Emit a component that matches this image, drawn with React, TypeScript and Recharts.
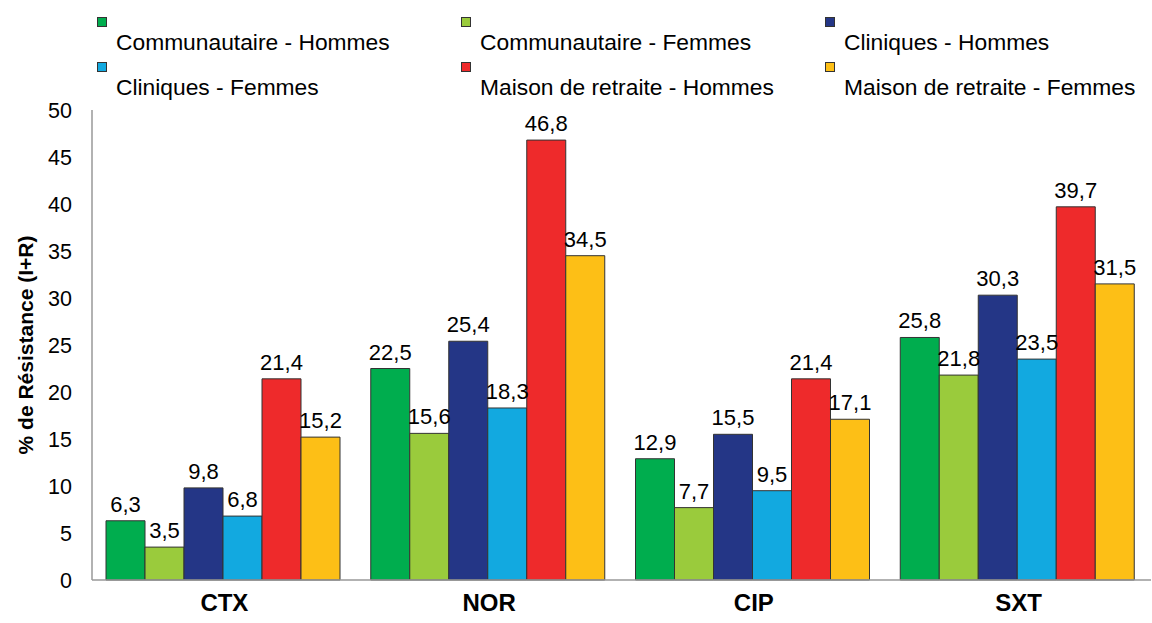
import { BarChart, Bar, XAxis, YAxis, LabelList } from "recharts";

const categories = ["CTX", "NOR", "CIP", "SXT"];
const seriesNames = [
  "Communautaire - Hommes",
  "Communautaire - Femmes",
  "Cliniques - Hommes",
  "Cliniques - Femmes",
  "Maison de retraite - Hommes",
  "Maison de retraite - Femmes",
];
const communautaireHommes = [6.3, 22.5, 12.9, 25.8];
const communautaireFemmes = [3.5, 15.6, 7.7, 21.8];
const cliniquesHommes = [9.8, 25.4, 15.5, 30.3];
const cliniquesFemmes = [6.8, 18.3, 9.5, 23.5];
const retraiteHommes = [21.4, 46.8, 21.4, 39.7];
const retraiteFemmes = [15.2, 34.5, 17.1, 31.5];
const yTicks = [0, 5, 10, 15, 20, 25, 30, 35, 40, 45, 50];

const colors = ["#00ad4e", "#9acb3c", "#243686", "#12a9e0", "#ee2a2b", "#fdbf16"];
const seriesValues = [
  communautaireHommes,
  communautaireFemmes,
  cliniquesHommes,
  cliniquesFemmes,
  retraiteHommes,
  retraiteFemmes,
];

const data = categories.map((cat, i) => {
  const row: Record<string, string | number> = { cat };
  seriesValues.forEach((vals, s) => {
    row["s" + s] = vals[i];
  });
  return row;
});

const font = "'Liberation Sans', Arial, sans-serif";
const fmt = (v: unknown) => String(v).replace(".", ",");

export default function App() {
  return (
    <div style={{ position: "absolute", left: 0, top: 0, width: 1152, height: 623, fontFamily: font, background: "#fff" }}>
      <div style={{ position: "absolute", left: 0, top: 0, width: 1152, height: 110 }}>
        {seriesNames.map((name, i) => {
          const col = i % 3;
          const row = Math.floor(i / 3);
          return (
            <div key={name} style={{ position: "absolute", left: 97 + col * 364, top: 17 + row * 45 }}>
              <div style={{ width: 10, height: 10, background: colors[i], border: "1px solid #333", boxSizing: "border-box" }} />
              <div style={{ position: "absolute", left: 19, top: 12, fontSize: 22.8, whiteSpace: "nowrap", color: "#000", lineHeight: "26px" }}>
                {name}
              </div>
            </div>
          );
        })}
      </div>
      <BarChart
        width={1152}
        height={623}
        data={data}
        margin={{ top: 110, right: 1, left: 0, bottom: 0 }}
        barCategoryGap={14}
        barGap={0}
      >
        <XAxis
          dataKey="cat"
          height={43}
          tickLine={false}
          tickSize={6}
          tickMargin={8}
          axisLine={{ stroke: "#999", strokeWidth: 1.5 }}
          tick={{ fill: "#000", fontSize: 24, fontWeight: "bold", fontFamily: font }}
        />
        <YAxis
          width={92}
          domain={[0, 50]}
          ticks={yTicks}
          interval={0}
          tickLine={false}
          tickSize={6}
          tickMargin={14}
          axisLine={{ stroke: "#999", strokeWidth: 1.5 }}
          tick={{ fill: "#000", fontSize: 21.5, fontFamily: font }}
          label={{
            content: () => (
              <text
                x={25}
                y={345}
                transform="rotate(-90 25 345)"
                textAnchor="middle"
                dominantBaseline="central"
                fontSize={21}
                fontWeight="bold"
                fontFamily={font}
                fill="#000"
              >
                % de Résistance (I+R)
              </text>
            ),
          }}
        />
        {seriesNames.map((name, s) => (
          <Bar key={name} dataKey={"s" + s} name={name} fill={colors[s]} stroke="#333" strokeWidth={1} isAnimationActive={false}>
            <LabelList
              dataKey={"s" + s}
              position="top"
              offset={9}
              formatter={fmt}
              style={{ fill: "#000", fontSize: 22, fontFamily: font }}
            />
          </Bar>
        ))}
      </BarChart>
    </div>
  );
}
